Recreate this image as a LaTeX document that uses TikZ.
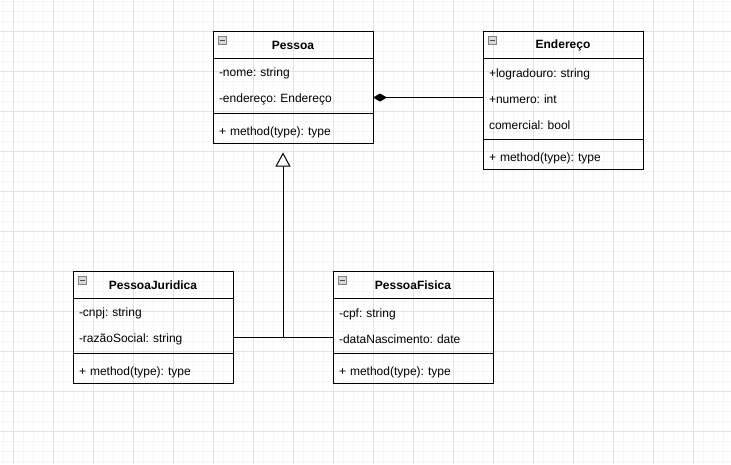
\documentclass[tikz,border=0pt]{standalone}
\usepackage{fontspec}
\setmainfont{Liberation Sans}
\usetikzlibrary{arrows.meta,positioning,calc}
\definecolor{gridmajor}{HTML}{E2E2E2}
\definecolor{gridminor}{HTML}{F6F6F6}
\frenchspacing

\begin{document}
\begin{tikzpicture}[%
	x=1pt,y=-1pt,
	every node/.style={outer sep=0pt},
	classhead/.style={draw,line width=1pt,anchor=north west,minimum width=160pt,
		minimum height=27pt,font=\fontsize{12}{14}\selectfont\bfseries},
	classbody/.style={draw,line width=1pt,minimum width=160pt,text width=148pt,
		inner xsep=6pt,inner ysep=0pt,align=left,font=\fontsize{12}{26}\selectfont},
	classmeth/.style={classbody,minimum height=30pt,text height=16pt,text depth=2pt},
	collapse/.style={draw=black!50,fill=black!15,line width=0.6pt,minimum size=8pt,
		inner sep=0pt,anchor=north west},
	composition/.style={line width=1pt,-{Diamond[length=14pt,width=8pt]}},
	inherit/.style={line width=1pt,-{Triangle[open,length=14pt,width=15pt,fill=white]},
		shorten >=9pt}]

	% background grid
	\useasboundingbox[fill=white] (0,0) rectangle (731,464);
	\foreach \x in {3,13,...,731}	\draw[gridminor,line width=1pt] (\x,0) -- (\x,464);
	\foreach \y in {1.5,11.5,...,464}	\draw[gridminor,line width=1pt] (0,\y) -- (731,\y);
	\foreach \x in {13,53,...,731}	\draw[gridmajor,line width=1pt] (\x,0) -- (\x,464);
	\foreach \y in {31.5,71.5,...,464}	\draw[gridmajor,line width=1pt] (0,\y) -- (731,\y);

	% classes
	\node[classhead]	(Pessoa)		at (213,31.5)				{Pessoa};
	\node[classbody,minimum height=55pt]	(PessoaAttr)	[below=0pt of Pessoa]		{-nome: string\\-endereço: Endereço};
	\node[classmeth]	(PessoaMeth)	[below=0pt of PessoaAttr]	{+ method(type): type};

	\node[classhead]	(Endereco)		at (483,31.5)				{Endereço};
	\node[classbody,minimum height=81pt]	(EnderecoAttr)	[below=0pt of Endereco]		{+logradouro: string\\+numero: int\\comercial: bool};
	\node[classmeth]	(EnderecoMeth)	[below=0pt of EnderecoAttr]	{+ method(type): type};

	\node[classhead]	(Juridica)		at (73,271.5)				{PessoaJuridica};
	\node[classbody,minimum height=55pt]	(JuridicaAttr)	[below=0pt of Juridica]		{-cnpj: string\\-razãoSocial: string};
	\node[classmeth]	(JuridicaMeth)	[below=0pt of JuridicaAttr]	{+ method(type): type};

	\node[classhead]	(Fisica)		at (333,271.5)				{PessoaFisica};
	\node[classbody,minimum height=55pt]	(FisicaAttr)	[below=0pt of Fisica]		{-cpf: string\\-dataNascimento: date};
	\node[classmeth]	(FisicaMeth)	[below=0pt of FisicaAttr]	{+ method(type): type};

	% collapse icons
	\node[collapse]	(PessoaIcon)	at ([shift={(5pt,-5pt)}]Pessoa.north west)		{\color{black!70}\rule{5pt}{1pt}};
	\node[collapse]	(EnderecoIcon)	at ([shift={(5pt,-5pt)}]Endereco.north west)	{\color{black!70}\rule{5pt}{1pt}};
	\node[collapse]	(JuridicaIcon)	at ([shift={(5pt,-5pt)}]Juridica.north west)	{\color{black!70}\rule{5pt}{1pt}};
	\node[collapse]	(FisicaIcon)	at ([shift={(5pt,-5pt)}]Fisica.north west)		{\color{black!70}\rule{5pt}{1pt}};

	% relations
	\draw[composition] ([yshift=1.5pt]EnderecoAttr.west) -- ([yshift=1.5pt]EnderecoAttr.west -| PessoaAttr.east);

	\coordinate (join) at ([yshift=-11pt]$(JuridicaAttr.east)!0.5!(FisicaAttr.west)$);
	\draw[line width=1pt] ([yshift=-11pt]JuridicaAttr.east) -- ([yshift=-11pt]FisicaAttr.west);
	\draw[inherit] (join) -- (join |- PessoaMeth.south);

\end{tikzpicture}
\end{document}
